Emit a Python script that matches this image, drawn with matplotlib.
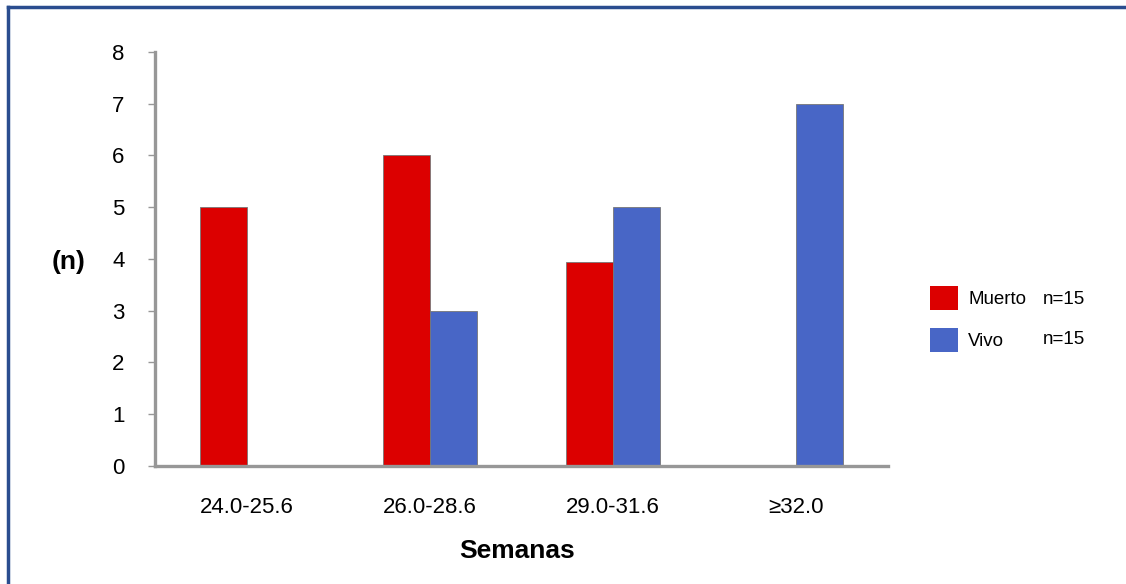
import numpy as np
import matplotlib
matplotlib.use('Agg')
import matplotlib.pyplot as plt
from matplotlib.lines import Line2D

plt.rcParams['font.family'] = ['Liberation Sans', 'DejaVu Sans']

categories = ['24.0-25.6', '26.0-28.6', '29.0-31.6', '\u226532.0']
muerto = [5, 6, 3.95, 0]
vivo = [0, 3, 5, 7]
series_names = ['Muerto', 'Vivo']
series_n = [15, 15]
yticks = [0, 1, 2, 3, 4, 5, 6, 7, 8]

red = '#dc0000'
blue = '#4866c6'
grey = '#979797'

fig = plt.figure(figsize=(11.26, 5.84), dpi=100)
ax = fig.add_axes([0.1377, 0.2021, 0.6509, 0.7089])

x = np.arange(len(categories))
w = 0.257
ax.bar(x - w / 2, muerto, w, color=red, edgecolor='#777777', linewidth=0.6, label=series_names[0])
ax.bar(x + w / 2, vivo, w, color=blue, edgecolor='#777777', linewidth=0.6, label=series_names[1])

ax.set_xlim(-0.5, 3.5)
ax.set_ylim(0, 8)
ax.set_yticks(yticks)
ax.set_xticks(x)
ax.set_xticklabels(categories)

for s in ['top', 'right']:
    ax.spines[s].set_visible(False)
for s in ['left', 'bottom']:
    ax.spines[s].set_color(grey)
    ax.spines[s].set_linewidth(2.4)

ax.tick_params(axis='y', length=5, width=1, color=grey, pad=17, labelsize=16)
ax.tick_params(axis='x', length=0, pad=22, labelsize=16)

fig.text(69 / 1126, 1 - 262 / 584, '(n)', fontsize=19, fontweight='bold', ha='center', va='center')
fig.text(517 / 1126, 1 - 551 / 584, 'Semanas', fontsize=19, fontweight='bold', ha='center', va='center')

leg = fig.legend(loc='upper left', bbox_to_anchor=(930 / 1126, 1 - 286 / 584), frameon=False,
                 fontsize=13.5, handlelength=1.5, handleheight=1.6, labelspacing=0.95,
                 handletextpad=0.53, borderpad=0, borderaxespad=0)
for p in leg.get_patches():
    p.set_edgecolor('none')

row_y = [299, 340]
for n, yy in zip(series_n, row_y):
    fig.text(1043 / 1126, 1 - yy / 584, 'n=%d' % n, fontsize=13.5, ha='left', va='center')

# blue frame
fig.add_artist(Line2D([8 / 1126, 1], [1 - 7 / 584, 1 - 7 / 584], transform=fig.transFigure, color='#2a4d8f', lw=2.5))
fig.add_artist(Line2D([8 / 1126, 8 / 1126], [0, 1 - 7 / 584], transform=fig.transFigure, color='#2a4d8f', lw=2.5))

fig.savefig('out.png', dpi=100)
